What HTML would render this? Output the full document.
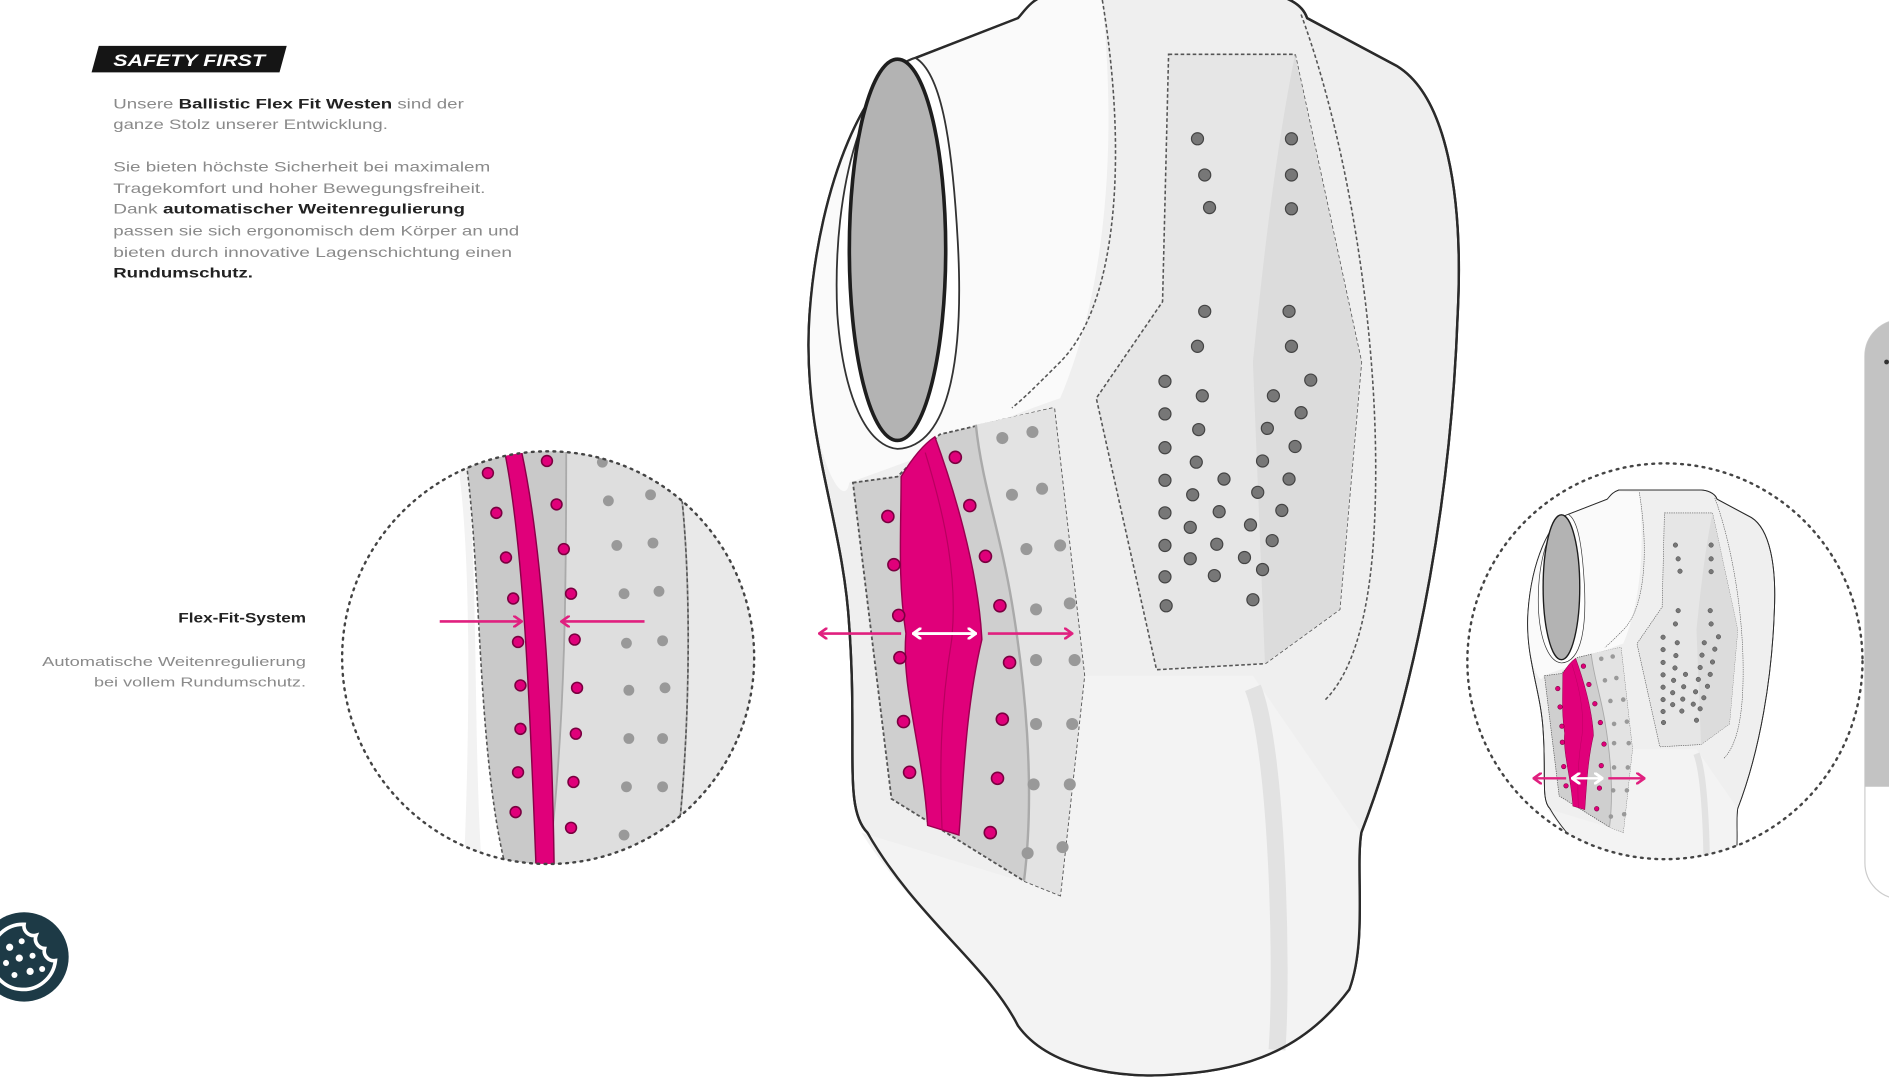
<!DOCTYPE html>
<html><head><meta charset="utf-8"><style>
html,body{margin:0;padding:0;background:#fff;overflow:hidden}
svg{display:block}
text{font-family:"Liberation Sans",sans-serif}
</style></head><body>
<svg width="1889" height="1080" viewBox="0 0 1568 895" preserveAspectRatio="none" xmlns="http://www.w3.org/2000/svg">
<defs>
<clipPath id="cl"><circle cx="455" cy="545" r="171"/></clipPath>
<clipPath id="cr"><circle cx="1382" cy="548" r="164"/></clipPath>
<marker id="ap" markerWidth="8" markerHeight="10" refX="7" refY="5" orient="auto-start-reverse" markerUnits="userSpaceOnUse"><path d="M0,0 L7,5 L0,10" fill="none" stroke="#e0207f" stroke-width="2.2"/></marker>
<marker id="aw" markerWidth="8" markerHeight="10" refX="7" refY="5" orient="auto-start-reverse" markerUnits="userSpaceOnUse"><path d="M0,0 L7,5 L0,10" fill="none" stroke="#fff" stroke-width="2.4"/></marker>
<g id="vest">
 <path d="M760,48 C720,60 680,150 672,260 C665,360 700,430 705,520 C712,620 700,670 720,690 C760,760 820,800 845,850 C870,885 930,895 980,890 C1050,885 1090,860 1120,820 C1135,780 1125,720 1130,690 C1180,560 1205,400 1210,260 C1215,160 1200,80 1160,55 L1085,15 C1080,0 1060,-5 1050,-5 L870,-5 C855,0 850,10 845,15 Z" fill="#efefef" stroke="#2a2a2a" stroke-width="2"/>
 <path d="M760,48 C720,60 680,150 672,260 C665,360 700,430 705,400 L760,380 C800,360 850,340 880,330 C910,260 930,150 915,0 L870,-2 C855,0 850,10 845,15 Z" fill="#fafafa"/>
 <path d="M715,690 C760,760 820,800 845,850 C870,885 930,895 980,890 C1050,885 1090,860 1120,820 C1135,780 1125,720 1130,690 L1040,560 L900,560 L880,740 Z" fill="#f3f3f3"/>
 <path d="M1040,570 C1060,620 1065,800 1060,870" fill="none" stroke="#e2e2e2" stroke-width="14"/>
 <path d="M760,48 C720,60 680,150 672,260 C665,360 700,430 705,520 C712,620 700,670 720,690 C760,760 820,800 845,850 C870,885 930,895 980,890 C1050,885 1090,860 1120,820 C1135,780 1125,720 1130,690 C1180,560 1205,400 1210,260 C1215,160 1200,80 1160,55 L1085,15 C1080,0 1060,-5 1050,-5 L870,-5 C855,0 850,10 845,15 Z" fill="none" stroke="#2a2a2a" stroke-width="2"/>
 <path d="M760,48 C720,60 690,150 695,260 C700,330 720,370 745,372 C790,370 800,290 795,200 C790,110 780,60 760,48 Z" fill="#fff" stroke="#333" stroke-width="1.5"/>
 <ellipse cx="745" cy="207" rx="40" ry="158" fill="#b3b3b3" stroke="#1e1e1e" stroke-width="3"/>
 <path d="M915,0 C935,120 930,250 880,300 C860,320 850,330 840,338" fill="none" stroke="#555" stroke-width="1.3" stroke-dasharray="3,2"/>
 <path d="M1080,12 C1120,120 1150,300 1140,450 C1135,520 1120,560 1100,580" fill="none" stroke="#555" stroke-width="1.3" stroke-dasharray="3,2"/>
 <path d="M970,45 L1075,45 L1130,300 L1112,505 L1050,550 L960,555 L910,330 L965,250 Z" fill="#e6e6e6" stroke="#555" stroke-width="1.3" stroke-dasharray="3,2"/>
 <path d="M1075,45 L1130,300 L1112,505 L1050,550 L1040,300 C1050,200 1060,120 1075,45Z" fill="#dcdcdc"/>
 <g fill="#777" stroke="#444" stroke-width="1">
  <circle cx="994" cy="115" r="5"/><circle cx="1072" cy="115" r="5"/>
  <circle cx="1000" cy="145" r="5"/><circle cx="1072" cy="145" r="5"/>
  <circle cx="1004" cy="172" r="5"/><circle cx="1072" cy="173" r="5"/>
  <circle cx="1000" cy="258" r="5"/><circle cx="1070" cy="258" r="5"/>
  <circle cx="994" cy="287" r="5"/><circle cx="1072" cy="287" r="5"/>
  <circle cx="967" cy="316" r="5"/><circle cx="998" cy="328" r="5"/><circle cx="1057" cy="328" r="5"/><circle cx="1088" cy="315" r="5"/>
  <circle cx="967" cy="343" r="5"/><circle cx="995" cy="356" r="5"/><circle cx="1052" cy="355" r="5"/><circle cx="1080" cy="342" r="5"/>
  <circle cx="967" cy="371" r="5"/><circle cx="993" cy="383" r="5"/><circle cx="1048" cy="382" r="5"/><circle cx="1075" cy="370" r="5"/>
  <circle cx="967" cy="398" r="5"/><circle cx="990" cy="410" r="5"/><circle cx="1016" cy="397" r="5"/><circle cx="1044" cy="408" r="5"/><circle cx="1070" cy="397" r="5"/>
  <circle cx="967" cy="425" r="5"/><circle cx="988" cy="437" r="5"/><circle cx="1012" cy="424" r="5"/><circle cx="1038" cy="435" r="5"/><circle cx="1064" cy="423" r="5"/>
  <circle cx="967" cy="452" r="5"/><circle cx="988" cy="463" r="5"/><circle cx="1010" cy="451" r="5"/><circle cx="1033" cy="462" r="5"/><circle cx="1056" cy="448" r="5"/>
  <circle cx="967" cy="478" r="5"/><circle cx="1008" cy="477" r="5"/><circle cx="1048" cy="472" r="5"/>
  <circle cx="968" cy="502" r="5"/><circle cx="1040" cy="497" r="5"/>
 </g>
 <path d="M708,400 L745,395 L780,360 L875,338 L900,560 L880,742 L850,730 L740,662 Z" fill="#cfcfcf" stroke="#555" stroke-width="1.5" stroke-dasharray="3,2"/>
 <path d="M810,352 L875,338 L900,560 L880,742 L850,730 C860,650 850,560 840,500 C830,440 815,400 810,352 Z" fill="#e3e3e3"/>
 <path d="M810,352 C815,400 830,440 840,500 C850,560 860,650 850,730" fill="none" stroke="#aaa" stroke-width="2"/>
 <path d="M748,395 C760,375 770,366 776,362 C790,400 812,470 815,530 C802,585 800,640 796,692 L770,684 C766,620 748,570 752,525 C745,480 748,440 748,395 Z" fill="#e0007a" stroke="#9a0050" stroke-width="1.2"/>
 <path d="M768,375 C785,430 795,480 790,530 C780,590 780,640 782,688" fill="none" stroke="#b8005f" stroke-width="1"/>
 <g fill="#e0007a" stroke="#7a0040" stroke-width="1.3">
  <circle cx="737" cy="428" r="5"/><circle cx="742" cy="468" r="5"/><circle cx="746" cy="510" r="5"/><circle cx="747" cy="545" r="5"/><circle cx="750" cy="598" r="5"/><circle cx="755" cy="640" r="5"/>
  <circle cx="793" cy="379" r="5"/><circle cx="805" cy="419" r="5"/><circle cx="818" cy="461" r="5"/><circle cx="830" cy="502" r="5"/><circle cx="838" cy="549" r="5"/><circle cx="832" cy="596" r="5"/><circle cx="828" cy="645" r="5"/><circle cx="822" cy="690" r="5"/>
 </g>
 <g fill="#999">
  <circle cx="832" cy="363" r="5"/><circle cx="857" cy="358" r="5"/><circle cx="840" cy="410" r="5"/><circle cx="865" cy="405" r="5"/>
  <circle cx="852" cy="455" r="5"/><circle cx="880" cy="452" r="5"/><circle cx="860" cy="505" r="5"/><circle cx="888" cy="500" r="5"/>
  <circle cx="860" cy="547" r="5"/><circle cx="892" cy="547" r="5"/><circle cx="860" cy="600" r="5"/><circle cx="890" cy="600" r="5"/>
  <circle cx="858" cy="650" r="5"/><circle cx="888" cy="650" r="5"/><circle cx="853" cy="707" r="5"/><circle cx="882" cy="702" r="5"/>
 </g>
</g>
</defs>

<use href="#vest"/>
<line x1="680" y1="525" x2="748" y2="525" stroke="#e0207f" stroke-width="2.2" marker-start="url(#ap)"/>
<line x1="758" y1="525" x2="810" y2="525" stroke="#fff" stroke-width="2.4" marker-start="url(#aw)" marker-end="url(#aw)"/>
<line x1="820" y1="525" x2="890" y2="525" stroke="#e0207f" stroke-width="2.2" marker-end="url(#ap)"/>

<g clip-path="url(#cl)">
 <rect x="280" y="370" width="350" height="350" fill="#fff"/>
 <path d="M560,370 C575,450 575,600 560,720 L640,720 L640,370Z" fill="#e9e9e9"/>
 <path d="M378,370 C392,450 390,600 385,720 L400,720 C392,600 398,450 385,370Z" fill="#f2f2f2"/>
 <path d="M385,370 L480,370 C495,450 505,600 505,720 L420,720 C395,620 400,460 385,370Z" fill="#c9c9c9" stroke="#555" stroke-width="1.3" stroke-dasharray="3,2"/>
 <path d="M470,370 L560,370 C575,450 575,600 560,720 L455,720 C470,600 470,470 470,370Z" fill="#dedede" stroke="#aaa" stroke-width="1.5"/>
 <path d="M560,370 C575,450 575,600 560,720" fill="none" stroke="#555" stroke-width="1.3" stroke-dasharray="3,2"/>
 <path d="M418,370 L432,370 C450,450 458,580 460,720 L445,720 C440,590 435,450 418,370Z" fill="#e0007a" stroke="#8a0048" stroke-width="1.2"/>
 <g fill="#e0007a" stroke="#7a0040" stroke-width="1.3">
  <circle cx="405" cy="392" r="4.5"/><circle cx="412" cy="425" r="4.5"/><circle cx="420" cy="462" r="4.5"/><circle cx="426" cy="496" r="4.5"/><circle cx="430" cy="532" r="4.5"/><circle cx="432" cy="568" r="4.5"/><circle cx="432" cy="604" r="4.5"/><circle cx="430" cy="640" r="4.5"/><circle cx="428" cy="673" r="4.5"/>
  <circle cx="454" cy="382" r="4.5"/><circle cx="462" cy="418" r="4.5"/><circle cx="468" cy="455" r="4.5"/><circle cx="474" cy="492" r="4.5"/><circle cx="477" cy="530" r="4.5"/><circle cx="479" cy="570" r="4.5"/><circle cx="478" cy="608" r="4.5"/><circle cx="476" cy="648" r="4.5"/><circle cx="474" cy="686" r="4.5"/>
 </g>
 <g fill="#999">
  <circle cx="500" cy="383" r="4.5"/><circle cx="535" cy="385" r="4.5"/><circle cx="505" cy="415" r="4.5"/><circle cx="540" cy="410" r="4.5"/>
  <circle cx="512" cy="452" r="4.5"/><circle cx="542" cy="450" r="4.5"/><circle cx="518" cy="492" r="4.5"/><circle cx="547" cy="490" r="4.5"/>
  <circle cx="520" cy="533" r="4.5"/><circle cx="550" cy="531" r="4.5"/><circle cx="522" cy="572" r="4.5"/><circle cx="552" cy="570" r="4.5"/>
  <circle cx="522" cy="612" r="4.5"/><circle cx="550" cy="612" r="4.5"/><circle cx="520" cy="652" r="4.5"/><circle cx="550" cy="652" r="4.5"/><circle cx="518" cy="692" r="4.5"/>
 </g>
</g>
<circle cx="455" cy="545" r="171" fill="none" stroke="#444" stroke-width="2" stroke-dasharray="1.5,4.5" stroke-linecap="round"/>
<line x1="365" y1="515" x2="433" y2="515" stroke="#e0207f" stroke-width="2.2" marker-end="url(#ap)"/>
<line x1="535" y1="515" x2="466" y2="515" stroke="#e0207f" stroke-width="2.2" marker-end="url(#ap)"/>

<g clip-path="url(#cr)">
 <rect x="1210" y="380" width="340" height="340" fill="#fff"/>
 <use href="#vest" transform="translate(1013,408) scale(0.38)"/>
</g>
<circle cx="1382" cy="548" r="164" fill="none" stroke="#444" stroke-width="2" stroke-dasharray="1.5,4.5" stroke-linecap="round"/>
<line x1="1273" y1="645" x2="1300" y2="645" stroke="#e0207f" stroke-width="2" marker-start="url(#ap)"/>
<line x1="1305" y1="645" x2="1330" y2="645" stroke="#fff" stroke-width="2" marker-start="url(#aw)" marker-end="url(#aw)"/>
<line x1="1335" y1="645" x2="1365" y2="645" stroke="#e0207f" stroke-width="2" marker-end="url(#ap)"/>

<rect x="1548" y="265" width="60" height="480" rx="30" fill="#fff" stroke="#ccc" stroke-width="1"/>
<path d="M1578,265 A30,30 0 0 0 1548,295 L1548,652 L1600,652 L1600,265 Z" fill="#c3c3c3"/>
<circle cx="1566" cy="300" r="2" fill="#333"/>

<path d="M82,38 L238,38 L232,60 L76,60 Z" fill="#151515"/>
<text x="94" y="54.5" font-size="14" font-weight="bold" font-style="italic" fill="#fff" textLength="126" lengthAdjust="spacingAndGlyphs">SAFETY FIRST</text>
<g font-size="11.5" fill="#8a8a8a" lengthAdjust="spacingAndGlyphs">
 <text x="94" y="90" textLength="291" lengthAdjust="spacingAndGlyphs">Unsere <tspan font-weight="bold" fill="#222">Ballistic Flex Fit Westen</tspan> sind der</text>
 <text x="94" y="107" textLength="228" lengthAdjust="spacingAndGlyphs">ganze Stolz unserer Entwicklung.</text>
 <text x="94" y="142" textLength="313" lengthAdjust="spacingAndGlyphs">Sie bieten höchste Sicherheit bei maximalem</text>
 <text x="94" y="160" textLength="309" lengthAdjust="spacingAndGlyphs">Tragekomfort und hoher Bewegungsfreiheit.</text>
 <text x="94" y="177" textLength="292" lengthAdjust="spacingAndGlyphs">Dank <tspan font-weight="bold" fill="#222">automatischer Weitenregulierung</tspan></text>
 <text x="94" y="195" textLength="337" lengthAdjust="spacingAndGlyphs">passen sie sich ergonomisch dem Körper an und</text>
 <text x="94" y="213" textLength="331" lengthAdjust="spacingAndGlyphs">bieten durch innovative Lagenschichtung einen</text>
 <text x="94" y="230" font-weight="bold" fill="#222" textLength="116" lengthAdjust="spacingAndGlyphs">Rundumschutz.</text>
</g>
<text x="148" y="516" font-size="11.5" font-weight="bold" fill="#222" textLength="106" lengthAdjust="spacingAndGlyphs">Flex-Fit-System</text>
<text x="35" y="552" font-size="11" fill="#8a8a8a" textLength="219" lengthAdjust="spacingAndGlyphs">Automatische Weitenregulierung</text>
<text x="78" y="569" font-size="11" fill="#8a8a8a" textLength="176" lengthAdjust="spacingAndGlyphs">bei vollem Rundumschutz.</text>

<circle cx="20" cy="793" r="37" fill="#1d3a46"/>
<path d="M20,766 A27,27 0 1 0 46,796 A8,8 0 0 1 37,786 A8,8 0 0 1 30,775 A8,8 0 0 1 20,766Z" fill="none" stroke="#fff" stroke-width="3"/>
<g fill="#fff"><circle cx="8" cy="785" r="3"/><circle cx="18" cy="780" r="2.5"/><circle cx="5" cy="798" r="2.5"/><circle cx="16" cy="794" r="3"/><circle cx="27" cy="792" r="2.5"/><circle cx="12" cy="808" r="2.5"/><circle cx="25" cy="805" r="3"/><circle cx="35" cy="803" r="2.5"/></g>
</svg>
</body></html>
